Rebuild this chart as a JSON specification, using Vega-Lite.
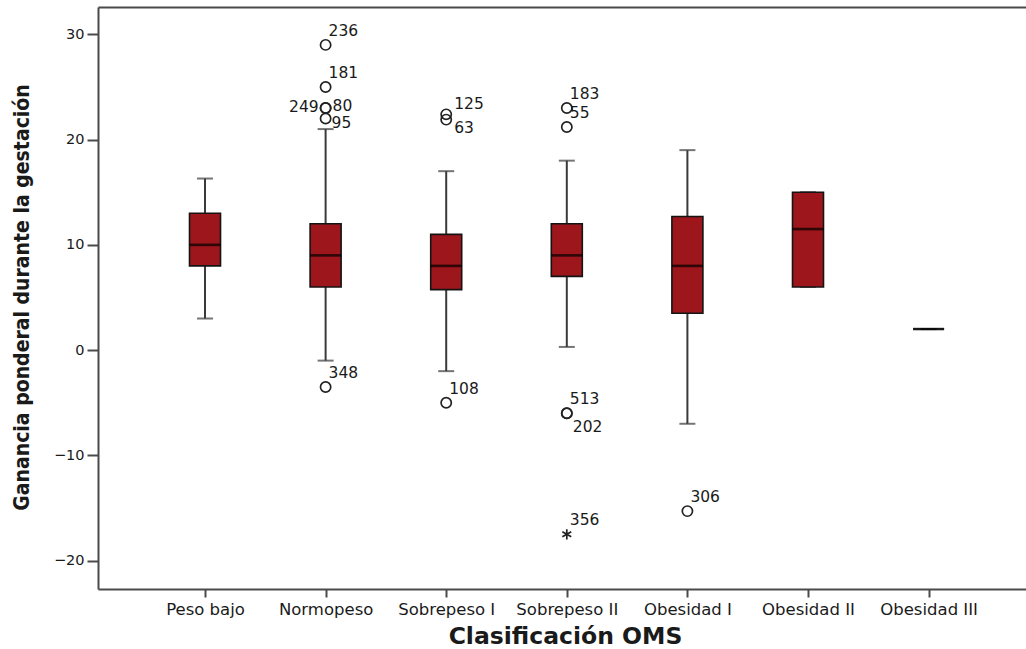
{
  "$schema": "https://vega.github.io/schema/vega-lite/v6.json",
  "autosize": {"type": "none"},
  "padding": {"left": 98, "top": 7, "right": 0, "bottom": 60},
  "width": 928,
  "height": 582,
  "background": "white",
  "config": {
    "view": {"stroke": null},
    "axis": {"grid": false}
  },
  "datasets": {
    "cajas": [
      {"grupo": "Peso bajo", "minimo": 3.0, "q1": 8.0, "mediana": 10.0, "q3": 13.0, "maximo": 16.3},
      {"grupo": "Normopeso", "minimo": -1.0, "q1": 6.0, "mediana": 9.0, "q3": 12.0, "maximo": 21.0},
      {"grupo": "Sobrepeso I", "minimo": -2.0, "q1": 5.75, "mediana": 8.0, "q3": 11.0, "maximo": 17.0},
      {"grupo": "Sobrepeso II", "minimo": 0.3, "q1": 7.0, "mediana": 9.0, "q3": 12.0, "maximo": 18.0},
      {"grupo": "Obesidad I", "minimo": -7.0, "q1": 3.5, "mediana": 8.0, "q3": 12.7, "maximo": 19.0},
      {"grupo": "Obesidad II", "minimo": 6.0, "q1": 6.0, "mediana": 11.5, "q3": 15.0, "maximo": 15.0},
      {"grupo": "Obesidad III", "minimo": 2.0, "q1": 2.0, "mediana": 2.0, "q3": 2.0, "maximo": 2.0}
    ],
    "atipicos": [
      {"grupo": "Normopeso", "valor": 29.0, "caso": "236", "tipo": "atípico"},
      {"grupo": "Normopeso", "valor": 25.0, "caso": "181", "tipo": "atípico"},
      {"grupo": "Normopeso", "valor": 23.0, "caso": "249", "tipo": "atípico"},
      {"grupo": "Normopeso", "valor": 23.0, "caso": "80", "tipo": "atípico"},
      {"grupo": "Normopeso", "valor": 22.0, "caso": "95", "tipo": "atípico"},
      {"grupo": "Normopeso", "valor": -3.5, "caso": "348", "tipo": "atípico"},
      {"grupo": "Sobrepeso I", "valor": 22.4, "caso": "125", "tipo": "atípico"},
      {"grupo": "Sobrepeso I", "valor": 21.9, "caso": "63", "tipo": "atípico"},
      {"grupo": "Sobrepeso I", "valor": -5.0, "caso": "108", "tipo": "atípico"},
      {"grupo": "Sobrepeso II", "valor": 23.0, "caso": "183", "tipo": "atípico"},
      {"grupo": "Sobrepeso II", "valor": 21.2, "caso": "55", "tipo": "atípico"},
      {"grupo": "Sobrepeso II", "valor": -6.0, "caso": "513", "tipo": "atípico"},
      {"grupo": "Sobrepeso II", "valor": -6.0, "caso": "202", "tipo": "atípico"},
      {"grupo": "Sobrepeso II", "valor": -17.5, "caso": "356", "tipo": "extremo"},
      {"grupo": "Obesidad I", "valor": -15.3, "caso": "306", "tipo": "atípico"}
    ]
  },
  "encoding": {
    "x": {
      "field": "grupo",
      "type": "nominal",
      "sort": ["Peso bajo", "Normopeso", "Sobrepeso I", "Sobrepeso II", "Obesidad I", "Obesidad II", "Obesidad III"],
      "scale": {"type": "point", "padding": 0.8475, "align": 0.5235},
      "axis": null
    }
  },
  "layer": [
    {
      "data": {"name": "cajas"},
      "mark": {"type": "rule", "color": "#3a3a3a", "strokeWidth": 2},
      "encoding": {
        "x": {
          "field": "grupo",
          "type": "nominal",
          "sort": ["Peso bajo", "Normopeso", "Sobrepeso I", "Sobrepeso II", "Obesidad I", "Obesidad II", "Obesidad III"],
          "axis": {
            "orient": "bottom",
            "title": "Clasificación OMS",
            "labelAngle": 0,
            "labelFont": "DejaVu Sans",
            "labelFontSize": 16.5,
            "labelColor": "#1a1a1a",
            "labelPadding": 4,
            "tickSize": 8,
            "tickWidth": 2,
            "tickColor": "#4a4a4a",
            "domainColor": "#4a4a4a",
            "domainWidth": 2,
            "titleFont": "DejaVu Sans",
            "titleFontWeight": "bold",
            "titleFontSize": 23.5,
            "titleColor": "#1a1a1a",
            "titleAnchor": null,
            "titleAlign": "center",
            "titleBaseline": "alphabetic",
            "titleX": 467,
            "titleY": 54
          }
        },
        "y": {
          "field": "minimo",
          "type": "quantitative",
          "scale": {"domain": [-22.7, 32.6], "nice": false, "zero": false},
          "axis": {
            "title": "Ganancia ponderal durante la gestación",
            "values": [-20, -10, 0, 10, 20, 30],
            "labelFont": "DejaVu Sans",
            "labelFontSize": 14.5,
            "labelColor": "#1a1a1a",
            "labelPadding": 3,
            "tickSize": 11,
            "tickWidth": 2,
            "tickColor": "#4a4a4a",
            "domainColor": "#4a4a4a",
            "domainWidth": 2,
            "titleFont": "Liberation Sans Narrow, DejaVu Sans Condensed, sans-serif",
            "titleFontWeight": "bold",
            "titleFontSize": 21,
            "titleColor": "#1a1a1a",
            "titleAnchor": null,
            "titleAngle": -90,
            "titleAlign": "center",
            "titleBaseline": "middle",
            "titleX": -76,
            "titleY": 290
          }
        },
        "y2": {"field": "maximo"}
      }
    },
    {
      "data": {"name": "cajas"},
      "mark": {"type": "tick", "color": "#3a3a3a", "size": 16, "thickness": 2},
      "encoding": {
        "x": {
          "field": "grupo",
          "type": "nominal",
          "sort": ["Peso bajo", "Normopeso", "Sobrepeso I", "Sobrepeso II", "Obesidad I", "Obesidad II", "Obesidad III"],
          "axis": {
            "orient": "top",
            "title": null,
            "labels": false,
            "ticks": false,
            "domainColor": "#4a4a4a",
            "domainWidth": 2
          }
        },
        "y": {"field": "minimo", "type": "quantitative"}
      }
    },
    {
      "data": {"name": "cajas"},
      "mark": {"type": "tick", "color": "#3a3a3a", "size": 16, "thickness": 2},
      "encoding": {
        "y": {"field": "maximo", "type": "quantitative"}
      }
    },
    {
      "data": {"name": "cajas"},
      "mark": {"type": "bar", "size": 31, "fill": "#9c161b", "stroke": "#141414", "strokeWidth": 1.6},
      "encoding": {
        "y": {"field": "q1", "type": "quantitative"},
        "y2": {"field": "q3"}
      }
    },
    {
      "data": {"name": "cajas"},
      "mark": {"type": "tick", "color": "#000000", "size": 31, "thickness": 2.6},
      "encoding": {
        "y": {"field": "mediana", "type": "quantitative"}
      }
    },
    {
      "data": {"name": "atipicos"},
      "mark": {"type": "point", "filled": false, "stroke": "#222222", "strokeWidth": 1.7, "size": 105, "opacity": 1},
      "encoding": {
        "y": {"field": "valor", "type": "quantitative"},
        "shape": {
          "field": "tipo",
          "type": "nominal",
          "scale": {
            "domain": ["atípico", "extremo"],
            "range": ["circle", "M0,-1L0,1M-0.87,-0.5L0.87,0.5M-0.87,0.5L0.87,-0.5"]
          },
          "legend": null
        }
      }
    },
    {
      "data": {"name": "atipicos"},
      "transform": [{"filter": {"field": "caso", "oneOf": ["236", "181", "183", "55", "348", "108", "513", "306", "356"]}}],
      "mark": {"type": "text", "align": "left", "baseline": "alphabetic", "dx": 3, "dy": -9, "font": "DejaVu Sans", "fontSize": 15.5, "fill": "#1a1a1a"},
      "encoding": {"y": {"field": "valor", "type": "quantitative"}, "text": {"field": "caso"}}
    },
    {
      "data": {"name": "atipicos"},
      "transform": [{"filter": {"field": "caso", "equal": "80"}}],
      "mark": {"type": "text", "align": "left", "baseline": "alphabetic", "dx": 7, "dy": 3, "font": "DejaVu Sans", "fontSize": 15.5, "fill": "#1a1a1a"},
      "encoding": {"y": {"field": "valor", "type": "quantitative"}, "text": {"field": "caso"}}
    },
    {
      "data": {"name": "atipicos"},
      "transform": [{"filter": {"field": "caso", "equal": "249"}}],
      "mark": {"type": "text", "align": "right", "baseline": "alphabetic", "dx": -7, "dy": 4, "font": "DejaVu Sans", "fontSize": 15.5, "fill": "#1a1a1a"},
      "encoding": {"y": {"field": "valor", "type": "quantitative"}, "text": {"field": "caso"}}
    },
    {
      "data": {"name": "atipicos"},
      "transform": [{"filter": {"field": "caso", "equal": "95"}}],
      "mark": {"type": "text", "align": "left", "baseline": "alphabetic", "dx": 6, "dy": 9, "font": "DejaVu Sans", "fontSize": 15.5, "fill": "#1a1a1a"},
      "encoding": {"y": {"field": "valor", "type": "quantitative"}, "text": {"field": "caso"}}
    },
    {
      "data": {"name": "atipicos"},
      "transform": [{"filter": {"field": "caso", "equal": "125"}}],
      "mark": {"type": "text", "align": "left", "baseline": "alphabetic", "dx": 8, "dy": -5, "font": "DejaVu Sans", "fontSize": 15.5, "fill": "#1a1a1a"},
      "encoding": {"y": {"field": "valor", "type": "quantitative"}, "text": {"field": "caso"}}
    },
    {
      "data": {"name": "atipicos"},
      "transform": [{"filter": {"field": "caso", "equal": "63"}}],
      "mark": {"type": "text", "align": "left", "baseline": "alphabetic", "dx": 8, "dy": 13, "font": "DejaVu Sans", "fontSize": 15.5, "fill": "#1a1a1a"},
      "encoding": {"y": {"field": "valor", "type": "quantitative"}, "text": {"field": "caso"}}
    },
    {
      "data": {"name": "atipicos"},
      "transform": [{"filter": {"field": "caso", "equal": "202"}}],
      "mark": {"type": "text", "align": "left", "baseline": "alphabetic", "dx": 6, "dy": 19, "font": "DejaVu Sans", "fontSize": 15.5, "fill": "#1a1a1a"},
      "encoding": {"y": {"field": "valor", "type": "quantitative"}, "text": {"field": "caso"}}
    }
  ],
  "resolve": {"axis": {"x": "independent"}}
}
